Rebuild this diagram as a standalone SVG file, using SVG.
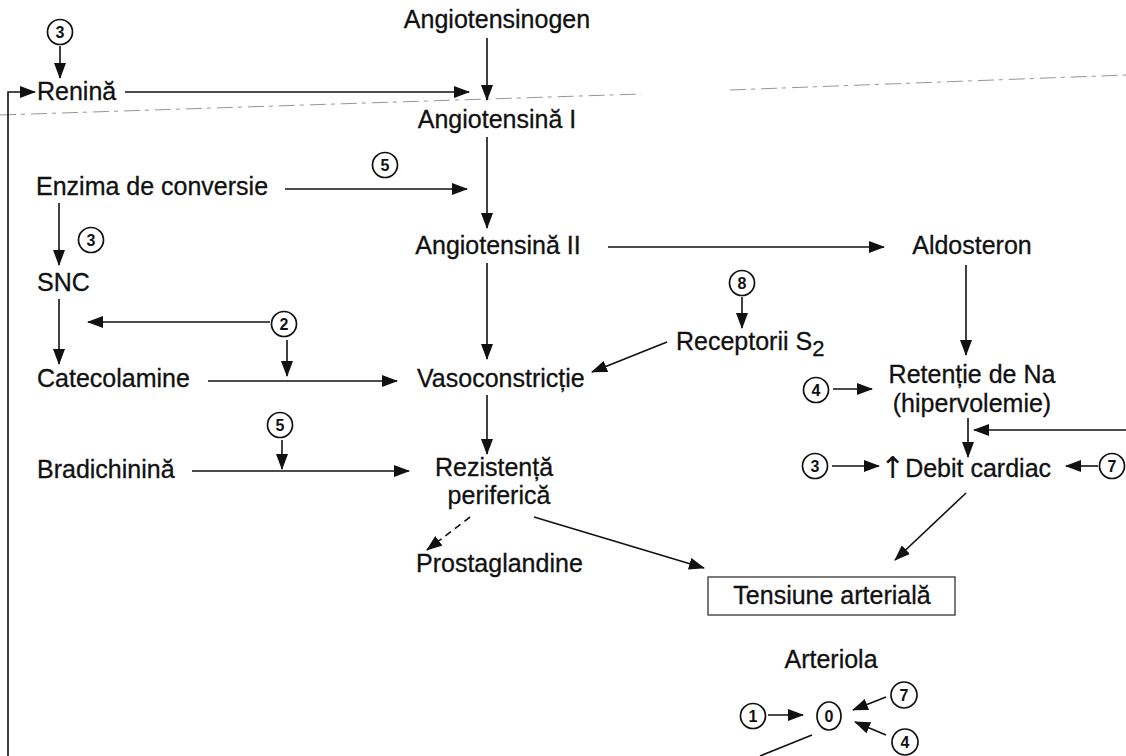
<svg xmlns="http://www.w3.org/2000/svg" width="1126" height="756" viewBox="0 0 1126 756">
  <style>
    .t { font-family: "Liberation Sans", Arial, sans-serif; font-size: 25px; fill: #111; stroke: #111; stroke-width: 0.3; }
    .m { text-anchor: middle; }
    .n { font-family: "Liberation Sans", Arial, sans-serif; font-size: 16px; font-weight: bold; fill: #111; text-anchor: middle; }
    .c { fill: #fff; stroke: #111; stroke-width: 1.7; }
    .e { fill: none; stroke: #111; stroke-width: 1.6; }
    .a { marker-end: url(#ah); }
    .d { stroke-dasharray: 7 5; }
    .box { fill: #fff; stroke: #222; stroke-width: 1.2; }
    .scan { fill: none; stroke: #8a8a8a; stroke-width: 0.9; stroke-dasharray: 16 5 4 6; }
  </style>
  <defs>
    <marker id="ah" viewBox="0 0 16 12" refX="15" refY="6" markerWidth="16" markerHeight="12" markerUnits="userSpaceOnUse" orient="auto">
      <path d="M0,0 L16,6 L0,12 Z" fill="#111"/>
    </marker>
  </defs>

  <rect width="1126" height="756" fill="#fff"/>

  <!-- faint ruled line across the top -->
  <path class="scan" d="M0,115 L641,94 M730,90 L1126,75"/>

  <!-- connectors -->
  <g id="connectors">
    <path class="e a" d="M60,46 L60,78"/>
    <path class="e a" d="M8,756 L8,92 L35,92"/>
    <path class="e a" d="M125,92 L469,92"/>
    <path class="e a" d="M487,38 L487,100"/>
    <path class="e a" d="M487,137 L487,228"/>
    <path class="e a" d="M285,189 L467,189"/>
    <path class="e a" d="M59,203 L59,265"/>
    <path class="e a" d="M608,247 L884,247"/>
    <path class="e a" d="M59,299 L59,364"/>
    <path class="e a" d="M270,322 L88,322"/>
    <path class="e a" d="M287,340 L287,376"/>
    <path class="e a" d="M208,381 L397,381"/>
    <path class="e a" d="M487,263 L487,359"/>
    <path class="e a" d="M742,297 L742,328"/>
    <path class="e a" d="M667,342 L592,372"/>
    <path class="e a" d="M966,265 L966,355"/>
    <path class="e a" d="M833,389 L872,389"/>
    <path class="e a" d="M968,418 L968,457"/>
    <path class="e a" d="M1126,430 L974,430"/>
    <path class="e a" d="M832,466 L879,466"/>
    <path class="e a" d="M1098,466 L1066,466"/>
    <path class="e a" d="M966,493 L895,560"/>
    <path class="e a" d="M487,395 L487,454"/>
    <path class="e a" d="M282,440 L282,469"/>
    <path class="e a" d="M192,471 L409,471"/>
    <path class="e d a" d="M470,517 L427,550"/>
    <path class="e a" d="M534,517 L704,568"/>
    <path class="e a" d="M768,715 L803,715"/>
    <path class="e a" d="M886,697 L853,710"/>
    <path class="e a" d="M886,735 L855,722"/>
    <path class="e" d="M812,735 L760,756"/>
  </g>

  <!-- substances and effects -->
  <g id="angiotensinogen"><text class="t m" x="497" y="28">Angiotensinogen</text></g>
  <g id="renina"><text class="t" x="37" y="100">Renină</text></g>
  <g id="angiotensina-1"><text class="t m" x="497" y="128">Angiotensină I</text></g>
  <g id="enzima"><text class="t" x="36" y="195">Enzima de conversie</text></g>
  <g id="angiotensina-2"><text class="t m" x="498" y="254">Angiotensină II</text></g>
  <g id="aldosteron"><text class="t m" x="972" y="254">Aldosteron</text></g>
  <g id="snc"><text class="t" x="37" y="291">SNC</text></g>
  <g id="receptorii"><text class="t" x="676" y="350">Receptorii S<tspan dy="6" font-size="22">2</tspan></text></g>
  <g id="catecolamine"><text class="t" x="37" y="387">Catecolamine</text></g>
  <g id="vasoconstrictie"><text class="t" x="417" y="387">Vasoconstricție</text></g>
  <g id="retentie">
    <text class="t m" x="972" y="383">Retenție de Na</text>
    <text class="t m" x="972" y="412">(hipervolemie)</text>
  </g>
  <g id="debit"><text class="t" x="880" y="478"><tspan font-family="DejaVu Sans, sans-serif" font-size="30" stroke-width="0">↑</tspan><tspan dy="-1">Debit cardiac</tspan></text></g>
  <g id="bradichinina"><text class="t" x="37" y="478">Bradichinină</text></g>
  <g id="rezistenta">
    <text class="t m" x="494" y="476">Rezistență</text>
    <text class="t m" x="499" y="504">periferică</text>
  </g>
  <g id="prostaglandine"><text class="t" x="416" y="572">Prostaglandine</text></g>
  <g id="tensiune">
    <rect class="box" x="708" y="577" width="247" height="38"/>
    <text class="t m" x="832" y="604">Tensiune arterială</text>
  </g>
  <g id="arteriola"><text class="t m" x="831" y="668">Arteriola</text></g>

  <!-- numbered markers -->
  <g id="m3a"><circle class="c" cx="60" cy="32" r="12.5"/><text class="n" x="60" y="38">3</text></g>
  <g id="m5a"><circle class="c" cx="385" cy="165" r="12.5"/><text class="n" x="385" y="171">5</text></g>
  <g id="m3b"><circle class="c" cx="91" cy="240" r="12.5"/><text class="n" x="91" y="246">3</text></g>
  <g id="m8"><circle class="c" cx="742" cy="283" r="12.5"/><text class="n" x="742" y="289">8</text></g>
  <g id="m2"><circle class="c" cx="284" cy="324" r="12.5"/><text class="n" x="284" y="330">2</text></g>
  <g id="m4a"><circle class="c" cx="816" cy="390" r="12.5"/><text class="n" x="816" y="396">4</text></g>
  <g id="m5b"><circle class="c" cx="280" cy="425" r="12.5"/><text class="n" x="280" y="431">5</text></g>
  <g id="m3c"><circle class="c" cx="815" cy="466" r="12.5"/><text class="n" x="815" y="472">3</text></g>
  <g id="m7a"><circle class="c" cx="1112" cy="466" r="12.5"/><text class="n" x="1112" y="472">7</text></g>
  <g id="m1"><circle class="c" cx="753" cy="716" r="12.5"/><text class="n" x="753" y="722">1</text></g>
  <g id="m0"><ellipse class="c" cx="829" cy="716" rx="12" ry="14"/><text class="n" x="829" y="722">0</text></g>
  <g id="m7b"><circle class="c" cx="904" cy="695" r="13"/><text class="n" x="904" y="701">7</text></g>
  <g id="m4b"><circle class="c" cx="905" cy="742" r="13"/><text class="n" x="905" y="748">4</text></g>
</svg>
